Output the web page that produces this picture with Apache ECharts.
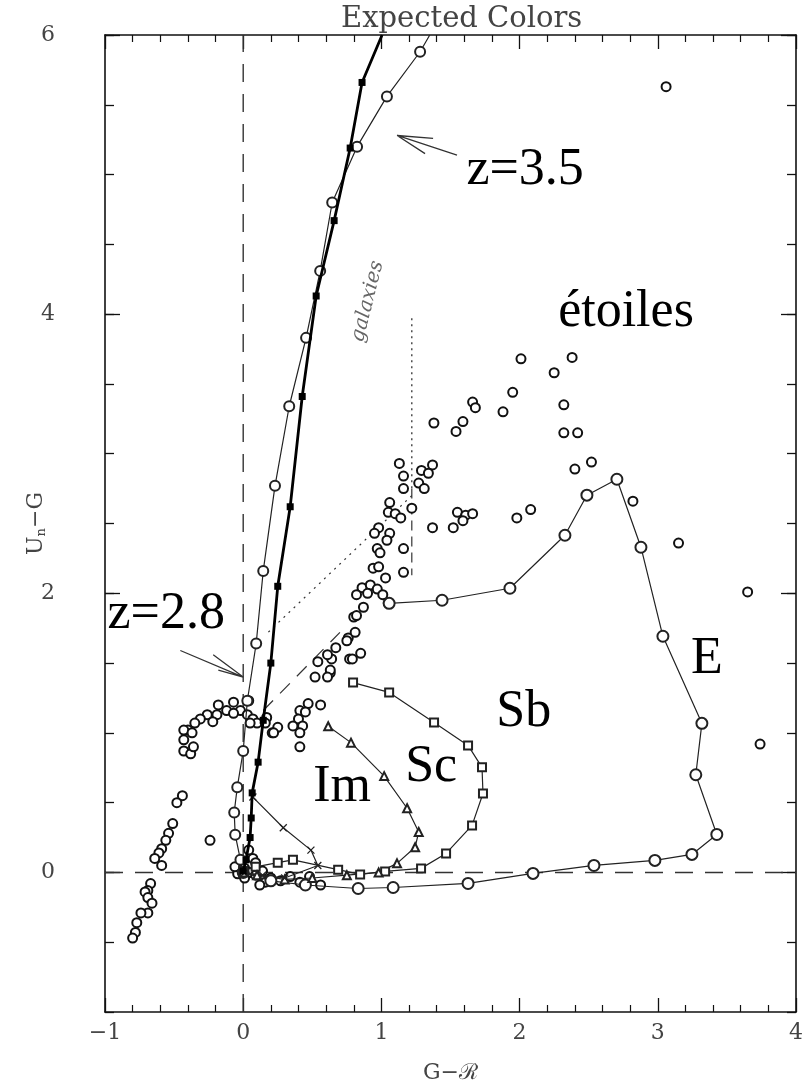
<!DOCTYPE html>
<html>
<head>
<meta charset="utf-8">
<title>Expected Colors</title>
<script src="https://cdn.jsdelivr.net/npm/echarts@6/dist/echarts.min.js"></script>
<style>
  html, body { margin: 0; padding: 0; background: #fff; }
  #chart { width: 812px; height: 1088px; }
</style>
</head>
<body>
<div id="chart"></div>
<script>
// ---- colour–colour tracks and star locus (G−R vs Un−G) ----

// high-redshift galaxy track, filled squares (thick line)
const thickTrack = [
  [1.005, 6.0], [0.86, 5.66], [0.774, 5.19], [0.658, 4.67], [0.528, 4.13],
  [0.427, 3.41], [0.34, 2.62], [0.25, 2.05], [0.2, 1.5], [0.145, 1.09],
  [0.108, 0.79], [0.065, 0.57], [0.058, 0.39], [0.05, 0.25], [0.02, 0.09], [0.0, 0.01]
];

// galaxy track with open circles (thin line)
const circleTrack = [
  [1.35, 6.0], [1.28, 5.88], [1.04, 5.56], [0.824, 5.2], [0.644, 4.8], [0.557, 4.31],
  [0.455, 3.83], [0.333, 3.34], [0.23, 2.77], [0.145, 2.16], [0.094, 1.64],
  [0.03, 1.23], [0.0, 0.87], [-0.043, 0.61], [-0.065, 0.43], [-0.058, 0.27], [-0.02, 0.09]
];

// irregular (Im) track, crosses
const imTrack = [
  [0.07, 0.54], [0.29, 0.32], [0.49, 0.16], [0.54, 0.05], [0.30, -0.04], [0.14, -0.02], [0.01, 0.0]
];

// Sc track, triangles
const scTrack = [
  [0.615, 1.047], [0.78, 0.93], [1.02, 0.69], [1.186, 0.46], [1.27, 0.29], [1.244, 0.18],
  [1.113, 0.065], [0.98, 0.0], [0.75, -0.02], [0.5, -0.04], [0.3, -0.05], [0.1, -0.02], [0.0, 0.0]
];

// Sb track, squares
const sbTrack = [
  [0.795, 1.36], [1.056, 1.29], [1.381, 1.075], [1.627, 0.91], [1.728, 0.753], [1.735, 0.566],
  [1.656, 0.337], [1.468, 0.136], [1.287, 0.029], [1.027, 0.007], [0.846, -0.014], [0.687, 0.02],
  [0.36, 0.09], [0.25, 0.07], [0.09, 0.04], [0.0, 0.01]
];

// elliptical (E) track, circles
const eTrack = [
  [1.056, 1.928], [1.439, 1.95], [1.93, 2.036], [2.328, 2.416], [2.487, 2.703], [2.704, 2.817],
  [2.878, 2.33], [3.037, 1.692], [3.319, 1.068], [3.275, 0.70], [3.427, 0.272], [3.247, 0.129],
  [2.979, 0.086], [2.538, 0.05], [2.097, -0.007], [1.627, -0.079], [1.085, -0.108], [0.832, -0.115],
  [0.45, -0.09], [0.2, -0.06], [0.0, 0.0]
];

// stellar locus
const stars = [
  [2.01, 3.68], [2.38, 3.69], [2.25, 3.58], [1.95, 3.44], [1.88, 3.30], [2.32, 3.35], [1.66, 3.37],
  [1.68, 3.33], [1.59, 3.23], [1.54, 3.16], [1.38, 3.22], [2.32, 3.15], [2.42, 3.15], [2.52, 2.94],
  [2.40, 2.89], [2.82, 2.66], [1.98, 2.54], [2.08, 2.60], [3.15, 2.36], [3.65, 2.01], [3.74, 0.92],
  [3.06, 5.63],
  [1.13, 2.93], [1.16, 2.84], [1.16, 2.75], [1.29, 2.88], [1.37, 2.92], [1.34, 2.86], [1.27, 2.79],
  [1.31, 2.75], [1.22, 2.61], [1.06, 2.65], [1.05, 2.58], [1.10, 2.57], [1.14, 2.54], [1.55, 2.58],
  [1.61, 2.56], [1.66, 2.57], [1.59, 2.52], [1.37, 2.47], [1.52, 2.47],
  [0.98, 2.47], [0.95, 2.43], [1.06, 2.43], [1.04, 2.38], [0.97, 2.32], [0.99, 2.29], [1.16, 2.32],
  [0.94, 2.18], [0.98, 2.19], [1.03, 2.11], [1.16, 2.15], [0.86, 2.04], [0.92, 2.06], [0.97, 2.03],
  [0.82, 1.99], [0.90, 2.00], [1.01, 1.99], [1.05, 1.93], [0.87, 1.90], [0.80, 1.83], [0.82, 1.84],
  [0.76, 1.68], [0.81, 1.72], [0.75, 1.66], [0.67, 1.61], [0.77, 1.53], [0.85, 1.57], [0.64, 1.53],
  [0.63, 1.43], [0.61, 1.56], [0.54, 1.51], [0.52, 1.40], [0.63, 1.45], [0.61, 1.40], [0.79, 1.53],
  [0.41, 1.16], [0.47, 1.21], [0.56, 1.20], [0.45, 1.15], [0.40, 1.10], [0.36, 1.05], [0.43, 1.05],
  [0.25, 1.04], [0.21, 1.00], [0.41, 1.00], [0.41, 0.90],
  [0.04, 1.23], [-0.07, 1.22], [-0.18, 1.20], [-0.02, 1.16], [-0.12, 1.16], [-0.26, 1.13],
  [-0.19, 1.13], [-0.07, 1.14], [0.03, 1.13], [0.07, 1.10], [0.10, 1.07], [0.17, 1.11], [0.16, 1.07],
  [-0.31, 1.10], [-0.35, 1.07], [-0.40, 1.02], [-0.43, 1.02], [-0.37, 1.00], [-0.43, 0.95],
  [-0.43, 0.87], [-0.38, 0.85], [-0.36, 0.90], [-0.22, 1.08], [0.05, 1.07], [0.22, 1.00],
  [-0.44, 0.55], [-0.48, 0.50], [-0.51, 0.35], [-0.54, 0.28], [-0.56, 0.23], [-0.59, 0.17],
  [-0.61, 0.14], [-0.64, 0.10], [-0.59, 0.05], [-0.24, 0.23],
  [-0.67, -0.08], [-0.69, -0.13], [-0.71, -0.14], [-0.69, -0.18], [-0.66, -0.22], [-0.69, -0.29],
  [-0.74, -0.29], [-0.77, -0.36], [-0.78, -0.43], [-0.80, -0.47],
  [-0.02, 0.07], [0.01, 0.03], [0.05, 0.00], [-0.04, -0.01], [0.01, -0.04], [0.09, -0.02],
  [0.14, 0.01], [0.20, -0.04], [0.27, -0.06], [0.34, -0.03], [0.41, -0.07], [0.48, -0.03],
  [0.56, -0.09], [0.07, 0.10], [0.04, 0.16], [0.09, 0.07], [0.16, -0.07], [-0.06, 0.04], [0.12, -0.09]
];

// guide lines
const dottedVertical = [[1.22, 3.97], [1.22, 2.75]];
const dashedVertical = [[1.22, 2.75], [1.22, 2.13]];
const dottedDiagonal = [[1.22, 2.70], [0.18, 1.72]];
const dashedDiagonal = [[0.145, 1.16], [0.70, 1.72]];

// arrows: shaft, then the two barbs of the head
const arrowZ35 = [[1.547, 5.14], [1.114, 5.28], '-', [1.374, 5.26], [1.114, 5.28], [1.316, 5.15]];
const arrowZ28 = [[-0.455, 1.59], [0.0, 1.40], '-', [-0.217, 1.56], [0.0, 1.40], [-0.18, 1.45]];

// text annotations placed in data space
const annotations = [
  { name: 'z=3.5', value: [2.04, 5.03] },
  { name: 'étoiles', value: [2.77, 4.01] },
  { name: 'z=2.8', value: [-0.557, 1.85] },
  { name: 'E', value: [3.355, 1.53] },
  { name: 'Sb', value: [2.03, 1.15] },
  { name: 'Sc', value: [1.36, 0.75] },
  { name: 'Im', value: [0.716, 0.61] }
];
const galaxiesLabel = [{ name: 'galaxies', value: [0.90, 4.09] }];

const xTicks = { min: -1, max: 4, interval: 1 };
const yTicks = { min: -1, max: 6, interval: 0.5, labelled: [0, 2, 4, 6] };

const INK = '#222';
const AXIS_FONT = 'DejaVu Serif';

function lineSeries(data, symbol, size, extra) {
  return Object.assign({
    type: 'line',
    data: data,
    symbol: symbol,
    symbolSize: size,
    showAllSymbol: true,
    animation: false,
    lineStyle: { color: INK, width: 1.2 },
    itemStyle: { color: INK, borderColor: INK, borderWidth: 1.4, opacity: 1 },
    z: 3
  }, extra || {});
}

function guide(data, type, width) {
  return {
    type: 'line', data: data, symbol: 'none', animation: false, silent: true,
    lineStyle: { color: '#333', width: width || 1.2, type: type }, z: 1
  };
}

const crossPath = 'path://M0,0L10,10M10,0L0,10';

const chart = echarts.init(document.getElementById('chart'), null, { renderer: 'canvas' });

const xCommon = {
  type: 'value', min: xTicks.min, max: xTicks.max, interval: xTicks.interval,
  axisLine: { show: true, onZero: false, lineStyle: { color: '#111', width: 1.6 } },
  axisTick: { show: true, inside: true, length: 14, lineStyle: { color: '#111', width: 1.3 } },
  minorTick: { show: true, splitNumber: 5, length: 7, lineStyle: { color: '#111', width: 1.2 } },
  splitLine: { show: false }
};

const yCommon = {
  type: 'value', min: yTicks.min, max: yTicks.max, interval: yTicks.interval,
  axisLine: { show: true, onZero: false, lineStyle: { color: '#111', width: 1.6 } },
  axisTick: { show: true, inside: true, length: 9, lineStyle: { color: '#111', width: 1.3 } },
  splitLine: { show: false }
};

const yMajorTicks = {
  type: 'value', min: yTicks.min, max: yTicks.max,
  axisLine: { show: false, onZero: false },
  axisTick: { show: true, inside: true, length: 15, customValues: yTicks.labelled,
              lineStyle: { color: '#111', width: 1.3 } },
  axisLabel: { show: false },
  splitLine: { show: false }
};

const option = {
  backgroundColor: '#fff',
  animation: false,
  title: {
    text: 'Expected Colors',
    left: 336, top: 0,
    textStyle: { fontFamily: 'DejaVu Serif', fontWeight: 'normal', fontSize: 29, color: '#444' }
  },
  grid: { left: 105, right: 16, top: 35, bottom: 76, outerBoundsMode: 'none', containLabel: false },
  xAxis: [
    Object.assign({}, xCommon, {
      position: 'bottom',
      name: 'G−ℛ', nameLocation: 'middle', nameGap: 50, nameMoveOverlap: false,
      nameTextStyle: { fontFamily: AXIS_FONT, fontSize: 22, color: '#444' },
      axisLabel: { fontFamily: AXIS_FONT, fontSize: 22, color: '#444', margin: 10,
                   formatter: v => (v < 0 ? '−' + Math.abs(v) : String(v)) }
    }),
    Object.assign({}, xCommon, { position: 'top', axisLabel: { show: false } })
  ],
  yAxis: [
    Object.assign({}, yCommon, {
      position: 'left',
      name: 'U{sub|n}−G', nameLocation: 'middle', nameGap: 57, nameMoveOverlap: false,
      nameTextStyle: {
        fontFamily: AXIS_FONT, fontSize: 22, color: '#444',
        rich: { sub: { fontFamily: AXIS_FONT, fontSize: 13, color: '#444', verticalAlign: 'bottom', padding: [10, 0, 0, 0] } }
      },
      axisLabel: { fontFamily: AXIS_FONT, fontSize: 22, color: '#444', margin: 50,
                   formatter: v => (yTicks.labelled.indexOf(v) >= 0 ? String(v) : '') }
    }),
    Object.assign({}, yCommon, { position: 'right', axisLabel: { show: false } }),
    Object.assign({}, yMajorTicks, { position: 'left' }),
    Object.assign({}, yMajorTicks, { position: 'right' })
  ],
  series: [
    guide([[0, -1], [0, 6]], [18, 12], 1.4),
    guide([[-1, 0], [4, 0]], [18, 12], 1.4),
    guide(dottedVertical, [2, 4], 1.3),
    guide(dashedVertical, [10, 6], 1.2),
    guide(dottedDiagonal, [2, 5], 1.2),
    guide(dashedDiagonal, [14, 10], 1.2),
    {
      type: 'scatter', data: stars, symbol: 'emptyCircle', symbolSize: 9, animation: false,
      itemStyle: { color: '#111', borderColor: '#111', borderWidth: 2, opacity: 1 }, z: 2
    },
    lineSeries(eTrack, 'emptyCircle', 11),
    lineSeries(sbTrack, 'emptyRect', 8),
    lineSeries(scTrack, 'emptyTriangle', 8),
    lineSeries(imTrack, crossPath, 7, { itemStyle: { color: 'none', borderColor: INK, borderWidth: 1.3, opacity: 1 } }),
    lineSeries(circleTrack.map((p, i) => (i === 0 ? { value: p, symbol: 'none' } : p)), 'emptyCircle', 10),
    lineSeries(thickTrack.map((p, i) => (i === 0 ? { value: p, symbol: 'none' } : p)), 'rect', 7,
      { lineStyle: { color: '#000', width: 2.8 }, itemStyle: { color: '#000', opacity: 1 }, z: 4 }),
    {
      type: 'line', data: arrowZ35, symbol: 'none', connectNulls: false, animation: false,
      lineStyle: { color: '#333', width: 1.3 }, z: 5
    },
    {
      type: 'line', data: arrowZ28, symbol: 'none', connectNulls: false, animation: false,
      lineStyle: { color: '#333', width: 1.3 }, z: 5
    },
    {
      type: 'scatter', data: annotations, symbolSize: 1, animation: false, silent: true,
      itemStyle: { color: 'rgba(0,0,0,0)', opacity: 1 },
      label: {
        show: true, position: 'inside', formatter: '{b}', opacity: 1,
        fontFamily: 'Liberation Serif', fontSize: 52, color: '#000'
      }, z: 6
    },
    {
      type: 'scatter', data: galaxiesLabel, symbolSize: 1, animation: false, silent: true,
      itemStyle: { color: 'rgba(0,0,0,0)', opacity: 1 },
      label: {
        show: true, position: 'inside', formatter: '{b}', rotate: 76, opacity: 1,
        fontFamily: 'DejaVu Serif', fontStyle: 'italic', fontSize: 20, color: '#666'
      }, z: 6
    }
  ]
};

chart.setOption(option);
</script>
</body>
</html>
